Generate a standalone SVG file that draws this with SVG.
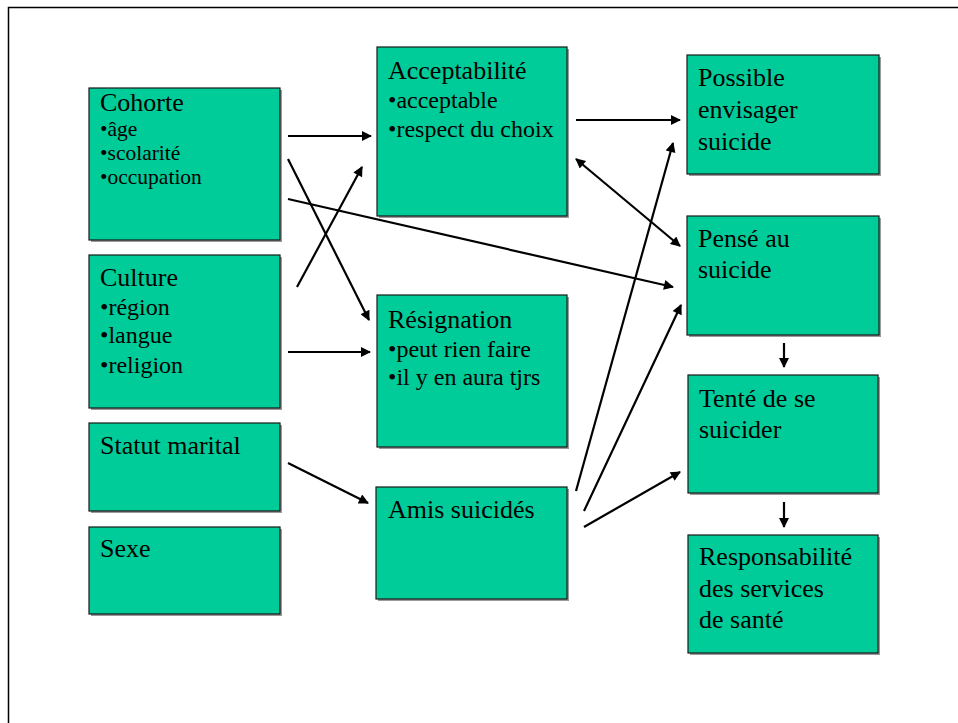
<svg xmlns="http://www.w3.org/2000/svg" width="958" height="723" viewBox="0 0 958 723">
<defs>
<marker id="ah" viewBox="0 0 10 10" refX="9" refY="5" markerWidth="12" markerHeight="10" markerUnits="userSpaceOnUse" orient="auto-start-reverse">
<path d="M0,0 L10,5 L0,10 z" fill="#000"/>
</marker>
</defs>
<style>
.box{fill:#00CC99;stroke:#1a1a1a;stroke-width:1.2}
.sh{fill:#9a9a9a}
.t{font-family:"Liberation Serif","Times New Roman",serif;font-size:26px;fill:#000}
.b{font-family:"Liberation Serif","Times New Roman",serif;font-size:24px;fill:#000}
.bs{font-family:"Liberation Serif","Times New Roman",serif;font-size:21.5px;fill:#000}
.c{stroke:#000;stroke-width:2.2;fill:none;marker-end:url(#ah)}
</style>
<rect x="0" y="0" width="958" height="723" fill="#fff"/>
<rect x="8.5" y="7.5" width="1000" height="800" fill="none" stroke="#000" stroke-width="1.5"/>

<g id="cohorte">
<rect class="sh" x="91" y="90" width="191" height="152"/>
<rect class="box" x="89" y="88" width="191" height="152"/>
<text class="t" x="100" y="111">Cohorte</text>
<text class="bs" x="100" y="136">•âge</text>
<text class="bs" x="100" y="160">•scolarité</text>
<text class="bs" x="100" y="184">•occupation</text>
</g>
<g id="culture">
<rect class="sh" x="91" y="257" width="191" height="153"/>
<rect class="box" x="89" y="255" width="191" height="153"/>
<text class="t" x="100" y="286">Culture</text>
<text class="b" x="100" y="315">•région</text>
<text class="b" x="100" y="343">•langue</text>
<text class="b" x="100" y="373">•religion</text>
</g>
<g id="statut">
<rect class="sh" x="91" y="425" width="191" height="88"/>
<rect class="box" x="89" y="423" width="191" height="88"/>
<text class="t" x="100" y="454">Statut marital</text>
</g>
<g id="sexe">
<rect class="sh" x="91" y="529" width="191" height="87"/>
<rect class="box" x="89" y="527" width="191" height="87"/>
<text class="t" x="100" y="557">Sexe</text>
</g>
<g id="acceptabilite">
<rect class="sh" x="379" y="49" width="190" height="169"/>
<rect class="box" x="377" y="47" width="190" height="169"/>
<text class="t" x="388" y="79">Acceptabilité</text>
<text class="b" x="388" y="108">•acceptable</text>
<text class="b" x="388" y="137">•respect du choix</text>
</g>
<g id="resignation">
<rect class="sh" x="379" y="297" width="190" height="152"/>
<rect class="box" x="377" y="295" width="190" height="152"/>
<text class="t" x="388" y="328">Résignation</text>
<text class="b" x="388" y="357">•peut rien faire</text>
<text class="b" x="388" y="385">•il y en aura tjrs</text>
</g>
<g id="amis">
<rect class="sh" x="378" y="489" width="191" height="112"/>
<rect class="box" x="376" y="487" width="191" height="112"/>
<text class="t" x="388" y="518">Amis suicidés</text>
</g>
<g id="possible">
<rect class="sh" x="689" y="57" width="192" height="119"/>
<rect class="box" x="687" y="55" width="192" height="119"/>
<text class="t" x="698" y="86">Possible</text>
<text class="t" x="698" y="118">envisager</text>
<text class="t" x="698" y="150">suicide</text>
</g>
<g id="pense">
<rect class="sh" x="689" y="218" width="192" height="119"/>
<rect class="box" x="687" y="216" width="192" height="119"/>
<text class="t" x="698" y="247">Pensé au</text>
<text class="t" x="698" y="278">suicide</text>
</g>
<g id="tente">
<rect class="sh" x="690" y="377" width="190" height="118"/>
<rect class="box" x="688" y="375" width="190" height="118"/>
<text class="t" x="699" y="407">Tenté de se</text>
<text class="t" x="699" y="438">suicider</text>
</g>
<g id="responsabilite">
<rect class="sh" x="690" y="537" width="190" height="118"/>
<rect class="box" x="688" y="535" width="190" height="118"/>
<text class="t" x="699" y="565">Responsabilité</text>
<text class="t" x="699" y="597">des services</text>
<text class="t" x="699" y="628">de santé</text>
</g>

<g id="connectors">
<line class="c" x1="288" y1="136" x2="371" y2="136"/>
<line class="c" x1="288" y1="159" x2="369" y2="320"/>
<line class="c" x1="297" y1="287" x2="362" y2="167"/>
<line class="c" x1="288" y1="199" x2="673" y2="287"/>
<line class="c" x1="288" y1="352" x2="370" y2="352"/>
<line class="c" x1="288" y1="463" x2="368" y2="503"/>
<line class="c" x1="576" y1="120" x2="680" y2="120"/>
<line class="c" x1="576" y1="159" x2="680" y2="246" marker-start="url(#ah)"/>
<line class="c" x1="576" y1="491" x2="673" y2="143"/>
<line class="c" x1="584" y1="511" x2="681" y2="305"/>
<line class="c" x1="584" y1="527" x2="680" y2="472"/>
<line class="c" x1="784" y1="343" x2="784" y2="367"/>
<line class="c" x1="784" y1="502" x2="784" y2="527"/>
</g>
</svg>
